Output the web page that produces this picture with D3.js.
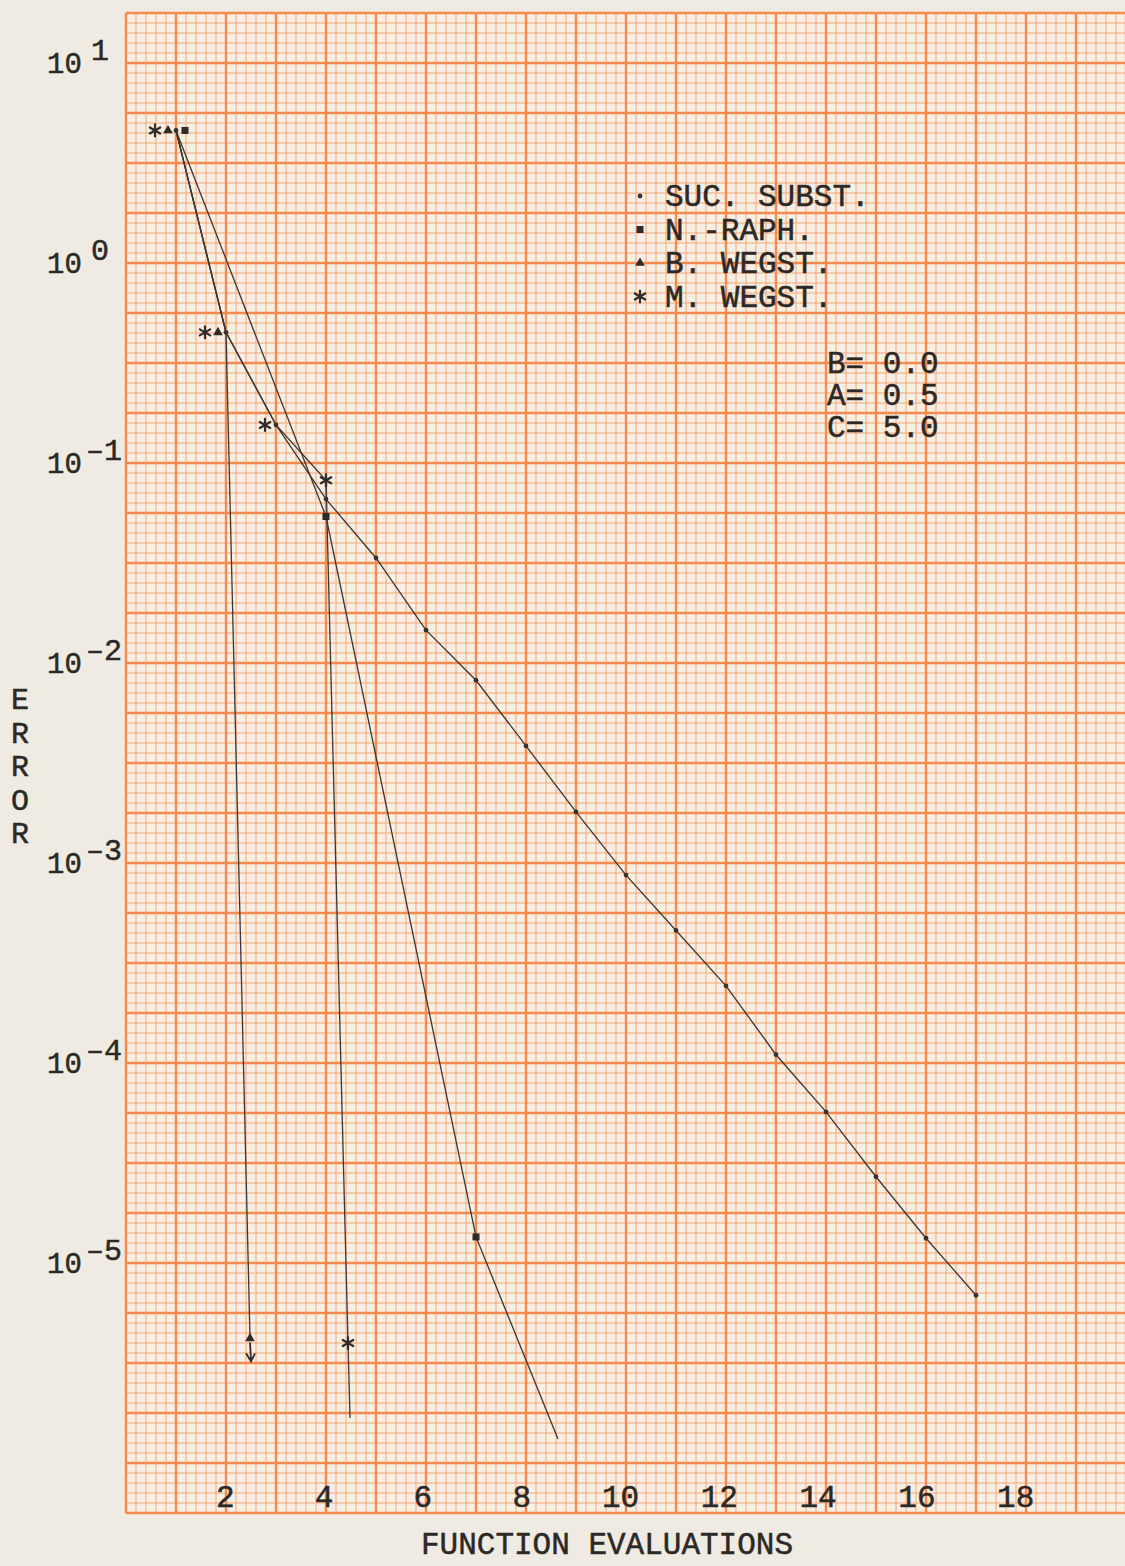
<!DOCTYPE html>
<html>
<head>
<meta charset="utf-8">
<script src="https://cdn.jsdelivr.net/npm/d3@7"></script>
<style>
body { margin: 0; background: #efebe2; }
svg { display: block; }
text { font-family: "Liberation Mono", "DejaVu Sans Mono", monospace; fill: #2b2825; stroke: #2b2825; stroke-width: 0.5; }
</style>
</head>
<body>
<svg width="1125" height="1566"></svg>
<script>
// data
var xTicks = [2, 4, 6, 8, 10, 12, 14, 16, 18];
var yDecades = [1, 0, -1, -2, -3, -4, -5];

var sucX = [1, 2, 3, 4, 5, 6, 7, 8, 9, 10, 11, 12, 13, 14, 15, 16, 17];
var sucErr = [4.6, 0.45, 0.155, 0.066, 0.0335, 0.0146, 0.0082, 0.00385, 0.0018, 0.00087,
              0.00046, 0.000243, 0.00011, 0.000057, 0.000027, 0.0000133, 0.0000069];

var nrX = [1, 4, 7, 8.64];
var nrErr = [4.6, 0.054, 0.0000135, 0.00000132];

var bwX = [1, 2, 2.48];
var bwErr = [4.6, 0.45, 0.0000042];

var mwX = [1, 2, 3, 4, 4.44, 4.48];
var mwErr = [4.6, 0.45, 0.155, 0.082, 0.00000398, 0.00000168];

var legendLabels = ['SUC. SUBST.', 'N.-RAPH.', 'B. WEGST.', 'M. WEGST.'];
var paramLabels = ['B= 0.0', 'A= 0.5', 'C= 5.0'];

var svg = d3.select('svg');

// scales: paper runs 0..20 across, 10^1.25 .. 10^-6.25 down
var xScale = d3.scaleLinear().domain([0, 20]).range([126, 1126]);
var yScale = d3.scaleLog().domain([10, 1e-5]).range([63, 1263]);

var gridTop = yScale(Math.pow(10, 1.25));
var gridBottom = yScale(Math.pow(10, -6.25));

//graph paper
svg.append('rect')
  .attr('x', xScale(0)).attr('y', gridTop)
  .attr('width', xScale(20) - xScale(0)).attr('height', gridBottom - gridTop)
  .attr('fill', '#f7efe4');

var vLines = d3.range(0, 101).map(i => ({v: i * 0.2, major: i % 5 == 0}));
var hLines = d3.range(0, 151).map(i => ({v: -6.25 + i * 0.05, major: i % 5 == 0}));

var grid = svg.append('g').attr('class', 'grid');
[false, true].forEach(function(maj) {
  grid.selectAll(null)
    .data(vLines.filter(d => d.major == maj))
    .enter().append('line')
    .attr('x1', d => xScale(d.v)).attr('x2', d => xScale(d.v))
    .attr('y1', gridTop).attr('y2', gridBottom)
    .attr('stroke', maj ? '#f58a4e' : '#f9a677')
    .attr('stroke-width', maj ? 2.4 : 1.0);
  grid.selectAll(null)
    .data(hLines.filter(d => d.major == maj))
    .enter().append('line')
    .attr('x1', xScale(0)).attr('x2', xScale(20))
    .attr('y1', d => yScale(Math.pow(10, d.v))).attr('y2', d => yScale(Math.pow(10, d.v)))
    .attr('stroke', maj ? '#f58a4e' : '#f9a677')
    .attr('stroke-width', maj ? 2.4 : 1.0);
});

// x axis labels typed inside the paper
var xAxis = d3.axisBottom(xScale).tickValues(xTicks).tickSize(0).tickFormat(d3.format('d'));
var xAxisGroup = svg.append('g')
  .attr('class', 'xAxis')
  .attr('transform', 'translate(0,' + (gridBottom - 9) + ')')
  .call(xAxis);
xAxisGroup.select('.domain').remove();
xAxisGroup.selectAll('text')
  .attr('font-size', 31)
  .attr('font-family', '"Liberation Mono", monospace')
  .attr('fill', '#2b2825')
  .attr('dx', d => -0.6 * d)
  .attr('dy', 0);

// y labels 10^n
var yLab = svg.append('g').attr('class', 'yAxis');
yLab.selectAll(null)
  .data(yDecades)
  .enter().append('text')
  .attr('x', 47)
  .attr('y', d => yScale(Math.pow(10, d)) + 10)
  .attr('font-size', 29)
  .text('10');
yLab.selectAll(null)
  .data(yDecades)
  .enter().append('text')
  .attr('x', d => d < 0 ? 86 : 91)
  .attr('y', d => yScale(Math.pow(10, d)) - 3)
  .attr('font-size', 30)
  .text(d => d < 0 ? '\u2013' + (-d) : '' + d);

// axis titles
svg.append('text')
  .attr('x', 607).attr('y', 1554)
  .attr('text-anchor', 'middle')
  .attr('font-size', 31)
  .text('FUNCTION EVALUATIONS');

svg.append('g').selectAll('text')
  .data('ERROR'.split(''))
  .enter().append('text')
  .attr('x', 20)
  .attr('y', (d, i) => 709 + i * 33.5)
  .attr('text-anchor', 'middle')
  .attr('font-size', 30)
  .text(d => d);

// series lines
var line = d3.line().x(d => xScale(d[0])).y(d => yScale(d[1]));
var series = [
  {id: 'suc', x: sucX, e: sucErr},
  {id: 'nr', x: nrX, e: nrErr},
  {id: 'bw', x: bwX, e: bwErr},
  {id: 'mw', x: mwX, e: mwErr}
];
svg.append('g').selectAll('path')
  .data(series)
  .enter().append('path')
  .attr('d', s => line(d3.zip(s.x, s.e)))
  .attr('fill', 'none')
  .attr('stroke', '#3a3633')
  .attr('stroke-width', 1.3);

// marker shapes
function drawMarker(g, kind, cx, cy) {
  if (kind == 'suc') {
    g.append('circle').attr('cx', cx).attr('cy', cy).attr('r', 2.4).attr('fill', '#35322f');
  } else if (kind == 'nr') {
    g.append('rect').attr('x', cx - 3.5).attr('y', cy - 3.5).attr('width', 7).attr('height', 7)
      .attr('fill', '#2e2b28');
  } else if (kind == 'bw') {
    g.append('path').attr('d', d3.symbol(d3.symbolTriangle, 40)())
      .attr('transform', 'translate(' + cx + ',' + cy + ')').attr('fill', '#2e2b28');
  } else {
    var a = d3.range(6).map(i => i * Math.PI / 3 + Math.PI / 2);
    g.append('path')
      .attr('d', a.map(t => 'M' + cx + ',' + cy + 'l' + (6 * Math.cos(t)) + ',' + (6 * Math.sin(t))).join(''))
      .attr('stroke', '#2e2b28').attr('stroke-width', 2.2).attr('stroke-linecap', 'round');
  }
}

var marks = svg.append('g').attr('class', 'markers');

// successive substitution: every point
sucX.forEach((x, i) => drawMarker(marks, 'suc', xScale(x), yScale(sucErr[i])));

// points shared with succ. subst. are typed beside it
function shared(x, v) {
  return sucX.indexOf(x) >= 0 && Math.abs(sucErr[sucX.indexOf(x)] - v) < 1e-9;
}
var sideOffset = {nr: 9, bw: -8, mw: -21};

nrX.slice(0, 3).forEach(function(x, i) {
  var dx = shared(x, nrErr[i]) ? sideOffset.nr : 0;
  drawMarker(marks, 'nr', xScale(x) + dx, yScale(nrErr[i]));
});
bwX.forEach(function(x, i) {
  var dx = shared(x, bwErr[i]) ? sideOffset.bw : 0;
  drawMarker(marks, 'bw', xScale(x) + dx, yScale(bwErr[i]));
});
mwX.slice(0, 5).forEach(function(x, i) {
  var withB = bwX.indexOf(x) >= 0 && bwErr[bwX.indexOf(x)] == mwErr[i];
  var dx = shared(x, mwErr[i]) ? (withB ? sideOffset.mw : -11) : 0;
  drawMarker(marks, 'mw', xScale(x) + dx, yScale(mwErr[i]));
});

// arrow below last B. Wegstein point
var bx = xScale(bwX[2]), by = yScale(bwErr[2]);
marks.append('path')
  .attr('d', 'M' + bx + ',' + (by + 4) + 'L' + (bx + 1) + ',' + (by + 22)
    + 'M' + (bx - 4) + ',' + (by + 15) + 'L' + (bx + 1) + ',' + (by + 23) + 'L' + (bx + 5) + ',' + (by + 15))
  .attr('fill', 'none').attr('stroke', '#2e2b28').attr('stroke-width', 1.8);

// legend
var legend = svg.append('g').attr('class', 'legend');
var legendKinds = ['suc', 'nr', 'bw', 'mw'];
legendLabels.forEach(function(t, i) {
  var yb = 206 + i * 33.5;
  drawMarker(legend, legendKinds[i], 640, yb - 10);
  legend.append('text').attr('x', 665).attr('y', yb).attr('font-size', 31).text(t);
});
paramLabels.forEach(function(t, i) {
  legend.append('text').attr('x', 827).attr('y', 373 + i * 32).attr('font-size', 31).text(t);
});
</script>
</body>
</html>
